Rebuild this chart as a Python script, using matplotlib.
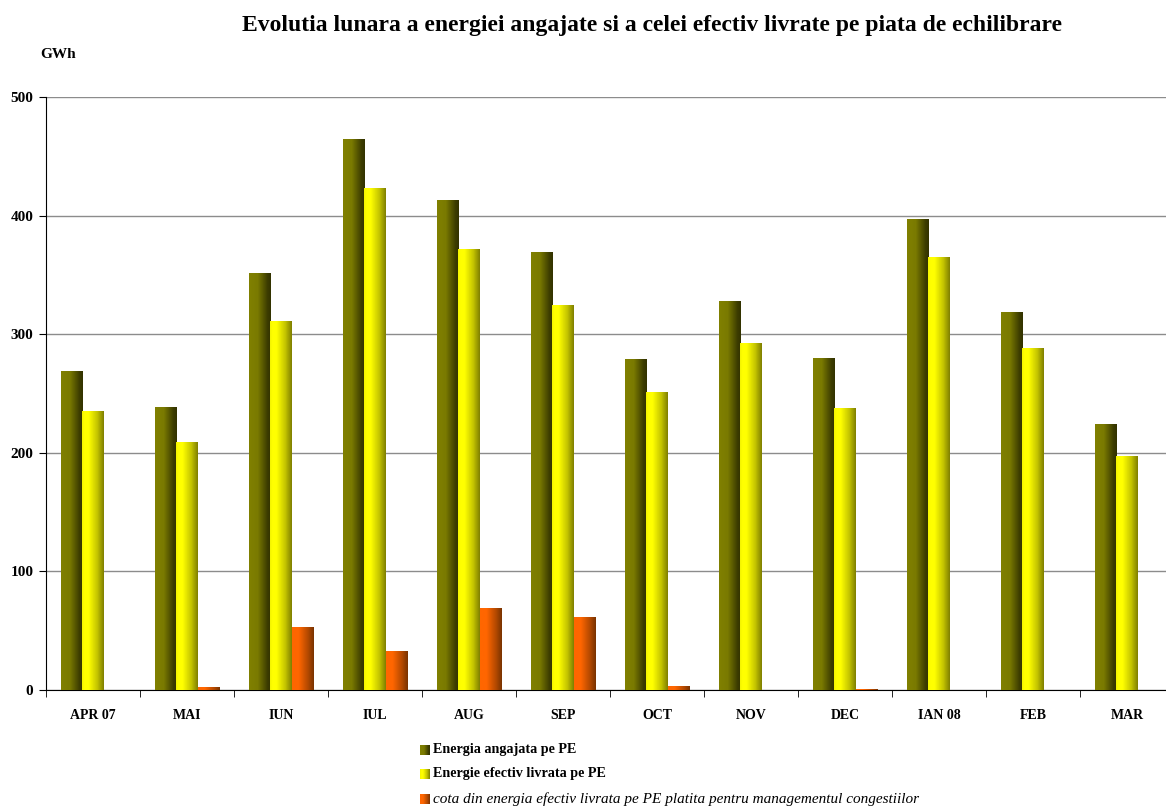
import matplotlib
matplotlib.use("Agg")
import matplotlib.pyplot as plt
import numpy as np
from matplotlib.colors import LinearSegmentedColormap

months = ['APR 07', 'MAI', 'IUN', 'IUL', 'AUG', 'SEP', 'OCT', 'NOV', 'DEC', 'IAN 08', 'FEB', 'MAR']
angajata = [269, 239, 352, 465, 413, 369, 279, 328, 280, 397, 319, 224]
livrata = [235, 209, 311, 423, 372, 325, 251, 293, 238, 365, 288, 197]
congestii = [0, 2.5, 53, 33, 69, 61.5, 3.4, 0, 0.5, 0, 0, 0]
labels = ['Energia angajata pe PE', 'Energie efectiv livrata pe PE',
          'cota din energia efectiv livrata pe PE platita pentru managementul congestiilor']

serif = ['Liberation Serif', 'DejaVu Serif']
plt.rcParams['font.family'] = serif

cm_olive = LinearSegmentedColormap.from_list(
    'o', [(0, '#808000'), (0.4, '#7a7a00'), (0.85, '#3c3c00'), (1, '#333300')])
cm_yellow = LinearSegmentedColormap.from_list(
    'y', [(0, '#f4f400'), (0.1, '#ffff00'), (0.3, '#ffff00'), (0.7, '#c4c400'), (1, '#808000')])
cm_orange = LinearSegmentedColormap.from_list(
    'r', [(0, '#ff6600'), (0.3, '#ff6600'), (0.75, '#b04800'), (1, '#7a3300')])
grad = np.linspace(0, 1, 64).reshape(1, -1)

fig = plt.figure(figsize=(11.66, 8.07), dpi=100)
ax = fig.add_axes([46 / 1166, 1 - 690 / 807, 1128 / 1166, 593 / 807])

x = np.arange(len(months))
w = 0.225
series = [(angajata, cm_olive), (livrata, cm_yellow), (congestii, cm_orange)]
for i, (vals, cm) in enumerate(series):
    bars = ax.bar(x + (i - 1) * w, vals, w, color='none', edgecolor='none', zorder=3)
    for b in bars:
        if b.get_height() <= 0:
            continue
        x0, y0 = b.get_x(), b.get_y()
        im = ax.imshow(grad, cmap=cm, aspect='auto', zorder=3,
                       extent=[x0, x0 + b.get_width(), y0, y0 + b.get_height()])
        im.set_clip_path(b)

ax.set_xlim(-0.5, len(months) - 0.5)
ax.set_ylim(0, 500)
ax.set_yticks(np.arange(0, 501, 100))
ax.yaxis.grid(True, color='#8c8c8c', linewidth=1)
ax.set_axisbelow(True)
ax.set_xticks(x)
ax.set_xticklabels(months, fontweight='bold', fontsize=10)
ax.set_xticks(np.arange(-0.5, len(months), 1), minor=True)
ax.tick_params(axis='x', which='major', length=0, pad=14)
ax.tick_params(axis='x', which='minor', length=5, direction='out')
ax.tick_params(axis='y', length=5, direction='out', labelsize=11, pad=4)
for t in ax.get_yticklabels():
    t.set_fontweight('bold')
ax.spines['top'].set_visible(False)
ax.spines['right'].set_visible(False)

fig.text(652 / 1166, 1 - 25 / 807, 'Evolutia lunara a energiei angajate si a celei efectiv livrate pe piata de echilibrare',
         ha='center', va='center', fontsize=17, fontweight='bold')
fig.text(40 / 1166, 1 - 55 / 807, 'GWh', ha='left', va='center', fontsize=11, fontweight='bold')

# legend drawn by hand so the squares keep the gradient
rows = [750, 774, 799]
for lab, (vals, cm), yy, k in zip(labels, series, rows, range(3)):
    lax = fig.add_axes([420 / 1166, 1 - (yy + 5) / 807, 10 / 1166, 10 / 807])
    lax.imshow(grad, cmap=cm, aspect='auto')
    lax.axis('off')
    fig.text(433 / 1166, 1 - yy / 807, lab, ha='left', va='center',
             fontsize=11 if k == 2 else 10.2,
             fontweight='normal' if k == 2 else 'bold', style='italic' if k == 2 else 'normal')

fig.savefig('out.png', dpi=100)
